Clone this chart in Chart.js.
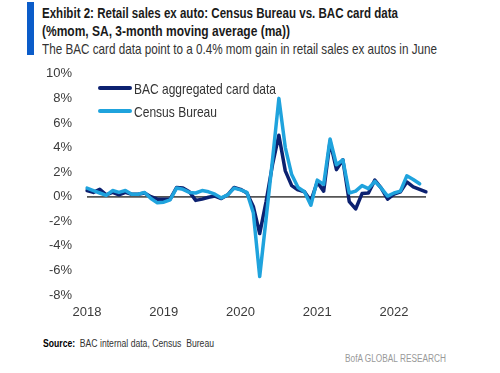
<!DOCTYPE html>
<html>
<head>
<meta charset="utf-8">
<script src="https://cdn.jsdelivr.net/npm/chart.js@4.4.1/dist/chart.umd.min.js"></script>
<style>
  body { margin: 0; width: 500px; height: 373px; background: #fff; position: relative; overflow: hidden;
         font-family: "Liberation Sans", Arial, sans-serif; color: #333; }
  .bar { position: absolute; left: 27px; top: 2px; width: 7px; height: 53px; background: #0b5cc9; }
  .txt { position: absolute; white-space: nowrap; line-height: 1; transform-origin: 0 50%; }
  #title1 { left: 42px; top: 5.5px; font-size: 14px; font-weight: bold; color: #1a1a1a; }
  #title2 { left: 42px; top: 24px; font-size: 14px; font-weight: bold; color: #1a1a1a; }
  #subtitle { left: 42px; top: 40.5px; font-size: 15px; color: #333; }
  #source { left: 43px; top: 339px; font-size: 10px; color: #333; }
  #source b { color: #000; }
  #bofa { left: 345px; top: 354px; font-size: 10px; color: #999; }
  /* canvas starts a bit higher: the y ticks need 22.8px above the plot area */
  #chartBox { position: absolute; left: 0; top: 51px; width: 500px; height: 279px; }
  #chartBox canvas { display: block; }
  .leg { position: absolute; left: 98px; height: 20px; }
  .leg .swatch { position: absolute; left: 0; top: 8px; width: 34px; height: 4px; border-radius: 2px; }
  .leg .lab { left: 36px; top: 3px; font-size: 15px; color: #333; }
</style>
</head>
<body>
<div class="bar"></div>
<div class="txt" id="title1" data-w="356">Exhibit 2: Retail sales ex auto: Census Bureau vs. BAC card data</div>
<div class="txt" id="title2" data-w="248">(%mom, SA, 3-month moving average (ma))</div>
<div class="txt" id="subtitle" data-w="395">The BAC card data point to a 0.4% mom gain in retail sales ex autos in June</div>
<div id="chartBox"><canvas id="salesChart" width="500" height="279"></canvas></div>
<div id="legend"></div>
<div class="txt" id="source" data-w="171"><b>Source:</b>&nbsp; BAC internal data, Census&nbsp; Bureau</div>
<div class="txt" id="bofa" data-w="101">BofA GLOBAL RESEARCH</div>

<script>
// monthly, Jan 2018 - Jun 2022
const months = [
  "2018-01","2018-02","2018-03","2018-04","2018-05","2018-06","2018-07","2018-08","2018-09","2018-10","2018-11","2018-12",
  "2019-01","2019-02","2019-03","2019-04","2019-05","2019-06","2019-07","2019-08","2019-09","2019-10","2019-11","2019-12",
  "2020-01","2020-02","2020-03","2020-04","2020-05","2020-06","2020-07","2020-08","2020-09","2020-10","2020-11","2020-12",
  "2021-01","2021-02","2021-03","2021-04","2021-05","2021-06","2021-07","2021-08","2021-09","2021-10","2021-11","2021-12",
  "2022-01","2022-02","2022-03","2022-04","2022-05","2022-06"
];

// % mom, 3mma
const bacCard = [
  0.5, 0.35, 0.6, 0.15, 0.35, 0.15, 0.35, 0.2, 0.2, 0.3, 0.0, -0.2,
  -0.2, -0.2, 0.75, 0.7, 0.4, -0.3, -0.2, -0.05, 0.05, -0.15, 0.15, 0.75,
  0.6, 0.3, -0.8, -3.0, -0.4, 2.6, 5.0, 2.1, 0.9, 0.55, 0.4, -0.35,
  1.2, 0.45, 4.5, 2.2, 3.0, -0.4, -1.0, 0.25, 0.3, 1.35, 0.7, -0.2,
  0.2, 0.4, 1.2, 0.8, 0.6, 0.4
];

// census ends in May 2022
const censusBureau = [
  0.7, 0.5, 0.3, 0.1, 0.5, 0.35, 0.5, 0.2, 0.2, 0.35, -0.15, -0.5,
  -0.45, -0.25, 0.7, 0.6, 0.35, 0.3, 0.5, 0.4, 0.2, -0.1, 0.15, 0.7,
  0.55, 0.35, -1.3, -6.5, -1.8, 3.0, 8.0, 4.0, 1.8, 0.75, 0.4, -0.7,
  1.35, 1.0, 4.7, 2.6, 3.0, 0.3, 0.45, 0.9, 0.65, 1.25, 0.7, 0.05,
  0.3, 0.45, 1.7, 1.4, 1.05
];

const seriesNames = ["BAC aggregated card data", "Census Bureau"];
const seriesColors = ["#0c2170", "#1fa3dd"];
const legendWidths = [142, 83];

const yMin = -8;
const yMax = 10;
const yStep = 2;

const tickFont = { family: '"Liberation Sans", Arial, sans-serif', size: 13 };

var ctx = document.getElementById("salesChart").getContext("2d");
var salesChart = new Chart(ctx, {
  type: "line",
  data: {
    labels: months,
    datasets: [
      {
        label: seriesNames[0],
        data: bacCard,
        borderColor: seriesColors[0],
        borderWidth: 3.5,
        pointRadius: 0,
        order: 1,
      },
      {
        label: seriesNames[1],
        data: censusBureau,
        borderColor: seriesColors[1],
        borderWidth: 3.5,
        pointRadius: 0,
        order: 0,
      },
    ],
  },
  options: {
    responsive: false,
    animation: false,
    layout: { padding: { top: 0, right: 74, bottom: 7, left: 0 } },
    elements: { line: { tension: 0, borderJoinStyle: "round", borderCapStyle: "round" } },
    plugins: { legend: { display: false }, tooltip: { enabled: false } },
    scales: {
      x: {
        offset: false,
        grid: { display: false, drawTicks: false },
        border: { display: false },
        afterFit: function (scale) { scale.height = 28; },
        ticks: {
          autoSkip: false,
          maxRotation: 0,
          padding: 10,
          color: "#3a3a3a",
          font: tickFont,
          callback: function (value) {
            var lab = this.getLabelForValue(value);
            return lab.endsWith("-01") ? lab.slice(0, 4) : "";
          },
        },
      },
      y: {
        min: yMin,
        max: yMax,
        border: { display: false },
        afterFit: function (scale) { scale.width = 87; },
        grid: {
          drawTicks: false,
          lineWidth: 1.8,
          color: function (c) { return c.tick && c.tick.value === 0 ? "#555" : "rgba(0,0,0,0)"; },
        },
        ticks: {
          stepSize: yStep,
          padding: 15,
          color: "#3a3a3a",
          font: tickFont,
          callback: function (v) { return v + "%"; },
        },
      },
    },
  },
});

// legend inside plot area, top-left
var legendTops = [78, 101];
salesChart.data.datasets.forEach(function (ds, i) {
  var item = $div("leg");
  item.style.top = legendTops[i] + "px";
  var sw = $div("swatch");
  sw.style.background = ds.borderColor;
  var lab = $div("txt lab");
  lab.textContent = ds.label;
  lab.setAttribute("data-w", legendWidths[i]);
  item.appendChild(sw);
  item.appendChild(lab);
  document.getElementById("legend").appendChild(item);
});

function $div(cls) {
  var d = document.createElement("div");
  d.className = cls;
  return d;
}

// squeeze texts to the widths of the original
document.querySelectorAll("[data-w]").forEach(function (el) {
  var w = el.getBoundingClientRect().width;
  el.style.transform = "scaleX(" + (Number(el.getAttribute("data-w")) / w) + ")";
});
</script>
</body>
</html>
